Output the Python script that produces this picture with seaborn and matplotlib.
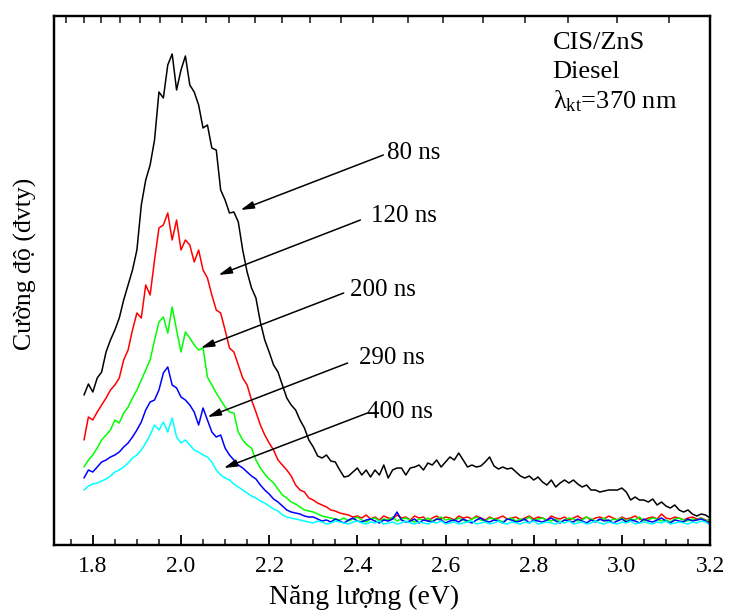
import numpy as np
import pandas as pd
import matplotlib
matplotlib.use("Agg")
import matplotlib.pyplot as plt
import seaborn as sns
from matplotlib.ticker import MultipleLocator, FormatStrFormatter

# ---------------- data ----------------
energy = np.round(np.arange(178, 321) / 100.0, 2)   # 1.78 ... 3.20 eV sampling grid

delays = ["80 ns", "120 ns", "200 ns", "290 ns", "400 ns"]
colors = ["#000000", "#ff0000", "#00ff00", "#0000ff", "#00ffff"]

i_80 = [150, 161, 153, 167, 173, 193, 205, 215, 227, 245,
        260, 275, 295, 340, 365, 380, 405, 453, 447, 480,
        491, 455, 475, 489, 460, 453, 440, 417, 420, 397,
        395, 355, 345, 332, 333, 323, 295, 273, 257, 247,
        223, 205, 193, 180, 173, 160, 147, 140, 135, 125,
        117, 105, 98, 89, 87, 90, 84, 83, 75, 68,
        69, 73, 77, 70, 75, 68, 75, 70, 80, 67,
        75, 77, 77, 70, 77, 78, 80, 75, 82, 80,
        85, 78, 83, 88, 85, 92, 85, 78, 80, 78,
        79, 83, 88, 79, 76, 78, 76, 77, 73, 69,
        67, 69, 65, 68, 63, 60, 65, 58, 62, 65,
        62, 65, 61, 58, 60, 55, 55, 53, 54, 55,
        55, 55, 57, 53, 45, 48, 45, 45, 43, 46,
        40, 43, 39, 37, 40, 35, 33, 35, 31, 29,
        31, 30, 27]

i_120 = [105, 128, 125, 133, 140, 147, 155, 160, 167, 185,
         195, 215, 232, 227, 260, 250, 285, 317, 320, 332,
         305, 325, 295, 305, 300, 283, 295, 275, 267, 250,
         235, 232, 215, 197, 193, 180, 167, 160, 145, 133,
         120, 110, 102, 95, 85, 80, 75, 69, 60, 55,
         53, 47, 45, 42, 40, 38, 35, 34, 32, 31,
         30, 28, 29,
         27, 30, 26, 28, 25, 29, 27, 26, 30, 27,
         28, 25, 29, 27, 28, 24, 27, 29, 26, 28,
         27, 25, 29, 27, 28, 26, 29, 27, 25, 28,
         26, 27, 29, 26, 27, 28, 25, 27, 29, 26,
         28, 27, 25, 29, 27, 26, 28, 25, 27, 29,
         26, 28, 25, 27, 28, 26, 29, 27, 25, 28,
         26, 27, 29, 26, 25, 27, 28, 26, 31, 27,
         26, 28, 27, 25, 27, 28, 26, 27, 25, 23]

i_200 = [78, 85, 90, 97, 105, 110, 115, 125, 122, 132,
         138, 147, 155, 165, 175, 185, 205, 223, 228, 212,
         238, 215, 193, 213, 207, 200, 195, 197, 168, 160,
         152, 145, 138, 133, 132, 113, 105, 100, 97, 85,
         77, 71, 66, 62, 56, 50, 47, 43, 41, 38,
         35, 34, 33, 31, 29, 28, 27, 26,
         25, 27, 24, 26, 28, 25, 23, 26, 27, 24,
         26, 25, 28, 24, 26, 27, 25, 23, 26, 25,
         27, 24, 26, 28, 25, 26, 24, 27, 25, 23,
         26, 28, 25, 24, 27, 26, 25, 23, 26, 27,
         24, 26, 25, 28, 24, 26, 27, 25, 24, 26,
         23, 25, 27, 26, 24, 25, 28, 26, 24, 25,
         27, 23, 26, 25, 27, 24, 26, 25, 28, 24,
         25, 27, 26, 24, 25, 23, 26, 27, 25, 24,
         26, 25, 27, 24, 26]

i_290 = [67, 75, 73, 78, 83, 85, 88, 90, 93, 98,
         102, 108, 115, 123, 135, 143, 145, 155, 172, 178,
         160, 157, 148, 145, 140, 133, 120, 137, 125, 113,
         108, 110, 97, 90, 85, 80, 77, 73, 69, 66,
         60, 55, 51, 46, 43, 39, 35, 33, 32, 31,
         29, 28, 28,
         26, 24, 25, 23, 26, 24, 22, 25, 27, 24,
         23, 25, 26, 24, 22, 25, 24, 26, 33, 25,
         23, 24, 26, 22, 25, 24, 23, 26, 25, 22,
         24, 25, 23, 26, 24, 22, 25, 27, 24, 23,
         25, 24, 22, 26, 25, 23, 24, 26, 22, 25,
         24, 23, 25, 27, 24, 22, 25, 24, 23, 26,
         24, 22, 25, 23, 26, 24, 25, 22, 24, 26,
         23, 25, 24, 22, 26, 24, 23, 25, 27, 24,
         22, 25, 24, 23, 26, 24, 25, 26, 24, 21]

i_400 = [55, 59, 61, 62, 64, 66, 69, 73, 75, 78,
         82, 87, 90, 95, 102, 110, 120, 115, 123, 113,
         127, 108, 102, 105, 100, 95, 93, 90, 88, 83,
         75, 70, 67, 65, 61, 58, 55, 52, 49, 47,
         44, 42, 39, 36, 34, 30, 28, 27, 26,
         25, 24, 23, 22, 24, 23, 21, 22, 24, 23,
         22, 21, 23, 24, 22, 21, 23, 22, 24, 21,
         22, 23, 21, 22, 24, 22, 21, 23, 22, 21,
         23, 22, 24, 21, 22, 23, 21, 22, 23, 24,
         21, 22, 23, 21, 22, 24, 22, 21, 23, 22,
         21, 23, 22, 24, 21, 22, 23, 22, 21, 23,
         22, 24, 21, 22, 23, 21, 22, 24, 22, 21,
         23, 22, 21, 23, 22, 24, 21, 22, 23, 22,
         21, 23, 22, 24, 21, 22, 23, 22, 21, 23,
         22, 24, 23, 20]

series = [i_80, i_120, i_200, i_290, i_400]

# arrow labels: arrow tail (E, I), arrow head (E, I), label position
arrow_tail_E = [2.459, 2.407, 2.369, 2.378, 2.423]
arrow_tail_I = [390, 325, 252, 182, 132]
arrow_head_E = [2.135, 2.085, 2.045, 2.060, 2.097]
arrow_head_I = [335, 270, 197, 128, 77]
label_E = [2.468, 2.430, 2.384, 2.403, 2.423]
label_I = [392, 329, 255, 187, 133]

# top axis (wavelength, nm) tick positions
top_ticks_nm = [713, 697, 682, 666, 650, 635, 619, 603, 588, 572, 556, 541,
                525, 509, 493, 478, 462, 446, 431, 415, 399]

info_lines = ["CIS/ZnS", "Diesel", "λ$_{\\mathrm{kt}}$=370 nm"]

# ---------------- build long-form frame ----------------
frames = []
for d, vals in zip(delays, series):
    frames.append(pd.DataFrame({"energy": energy, "intensity": vals, "delay": d}))
df = pd.concat(frames, ignore_index=True)

# ---------------- style ----------------
sns.set_theme(style="white")
plt.rcParams["font.family"] = ["Liberation Serif", "DejaVu Serif"]
plt.rcParams["mathtext.fontset"] = "custom"
plt.rcParams["mathtext.rm"] = "Liberation Serif"
plt.rcParams["mathtext.it"] = "Liberation Serif:italic"

fig = plt.figure(figsize=(7.31, 6.15), dpi=100)
ax = fig.add_axes([0.0739, 0.1138, 0.8974, 0.8602])

sns.lineplot(data=df, x="energy", y="intensity", hue="delay", hue_order=delays,
             palette=dict(zip(delays, colors)), estimator=None, sort=False,
             linewidth=1.1, legend=False, ax=ax)

ax.set_xlim(1.712, 3.2)
ax.set_ylim(0, 529)
ax.set_yticks([])
ax.xaxis.set_major_locator(MultipleLocator(0.2))
ax.xaxis.set_minor_locator(MultipleLocator(0.05))
ax.xaxis.set_major_formatter(FormatStrFormatter("%.1f"))
ax.tick_params(axis="x", which="major", direction="in", length=7, width=1.3,
               labelsize=17, pad=8, colors="black")
ax.tick_params(axis="x", which="minor", direction="in", length=4, width=1.2)
for s in ax.spines.values():
    s.set_linewidth(1.6)
    s.set_color("black")

ax.set_xlabel("Năng lượng (eV)", fontsize=20, color="black")
ax.xaxis.set_label_coords(0.473, -0.076)
ax.set_ylabel("Cường độ (đvty)", fontsize=18.5, color="black")
ax.yaxis.set_label_coords(-0.026, 0.531)

# top wavelength ticks (no labels)
ax2 = ax.twiny()
ax2.set_xlim(ax.get_xlim())
ax2.set_xticks([1240.0 / l for l in top_ticks_nm])
ax2.set_xticklabels([])
ax2.tick_params(axis="x", which="major", direction="in", length=5, width=1.2, top=True)
ax2.xaxis.set_minor_locator(matplotlib.ticker.NullLocator())
for s in ax2.spines.values():
    s.set_linewidth(1.6)
    s.set_color("black")

# arrows + labels
for lab, tx, ty, hx, hy, lx, ly in zip(delays, arrow_tail_E, arrow_tail_I,
                                       arrow_head_E, arrow_head_I, label_E, label_I):
    ax.annotate("", xy=(hx, hy), xytext=(tx, ty),
                arrowprops=dict(arrowstyle="-|>,head_length=0.8,head_width=0.22",
                                color="black", lw=1.1, shrinkA=0, shrinkB=0,
                                mutation_scale=10))
    ax.text(lx, ly, lab, fontsize=18, ha="left", va="center", color="black")

# info text at top right
for k, line in enumerate(info_lines):
    ax.text(0.760, 0.949 - k * 0.0548, line, transform=ax.transAxes,
            fontsize=19, ha="left", va="center", color="black")

fig.savefig("out.png", dpi=100)
